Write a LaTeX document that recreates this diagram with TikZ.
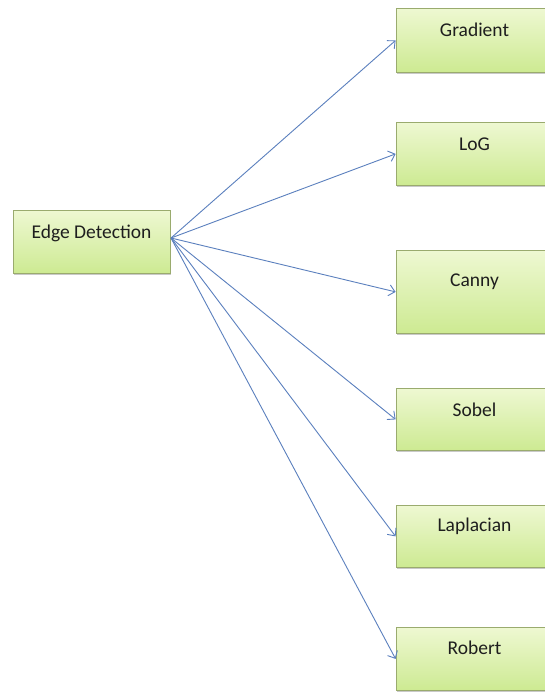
\documentclass[tikz,border=0pt]{standalone}
\usepackage{fontspec}
\setmainfont{Carlito}
\usetikzlibrary{arrows.meta,shadows}
\definecolor{boxtop}{HTML}{EEF8D2}
\definecolor{boxbot}{HTML}{CDEA92}
\definecolor{boxline}{HTML}{9AAB6E}
\definecolor{arrowblue}{HTML}{5B80BE}
\definecolor{txt}{HTML}{1E1E1E}
\tikzset{
  box/.style={draw=boxline, line width=0.8pt, top color=boxtop, bottom color=boxbot,
    minimum width=157pt, inner xsep=0pt, inner ysep=0pt, text height=28.5pt,
    font=\fontsize{19.5}{22}\selectfont, text=txt, anchor=north,
    drop shadow={shadow xshift=0.6pt, shadow yshift=-2pt, opacity=0.35, fill=black!60}},
  link/.style={draw=arrowblue, line width=0.9pt, -{Straight Barb[length=6pt,width=11pt]}}
}
\begin{document}
\begin{tikzpicture}[x=1pt,y=-1pt]
\useasboundingbox (0,0) rectangle (545,692);
\fill[white] (0,0) rectangle (545,692);
\clip (0,0) rectangle (545,692);
\node[box, text depth=34.5pt] (ed) at (91.5,210) {Edge Detection};
\node[box, text depth=35.5pt] (grad) at (474.5,8) {Gradient};
\node[box, text depth=34.5pt] (log) at (474.5,122) {LoG};
\node[box, text height=36.5pt, text depth=46.5pt] (canny) at (474.5,250) {Canny};
\node[box, text depth=33.5pt] (sobel) at (474.5,388) {Sobel};
\node[box, text height=26.5pt, text depth=35.5pt] (lap) at (474.5,505) {Laplacian};
\node[box, text height=27.5pt, text depth=35.5pt] (rob) at (474.5,627) {Robert};
\coordinate (src) at (171,238);
\foreach \t in {grad,log,canny,sobel,lap,rob}
  \draw[link] (src) -- (\t.west);
\end{tikzpicture}
\end{document}
